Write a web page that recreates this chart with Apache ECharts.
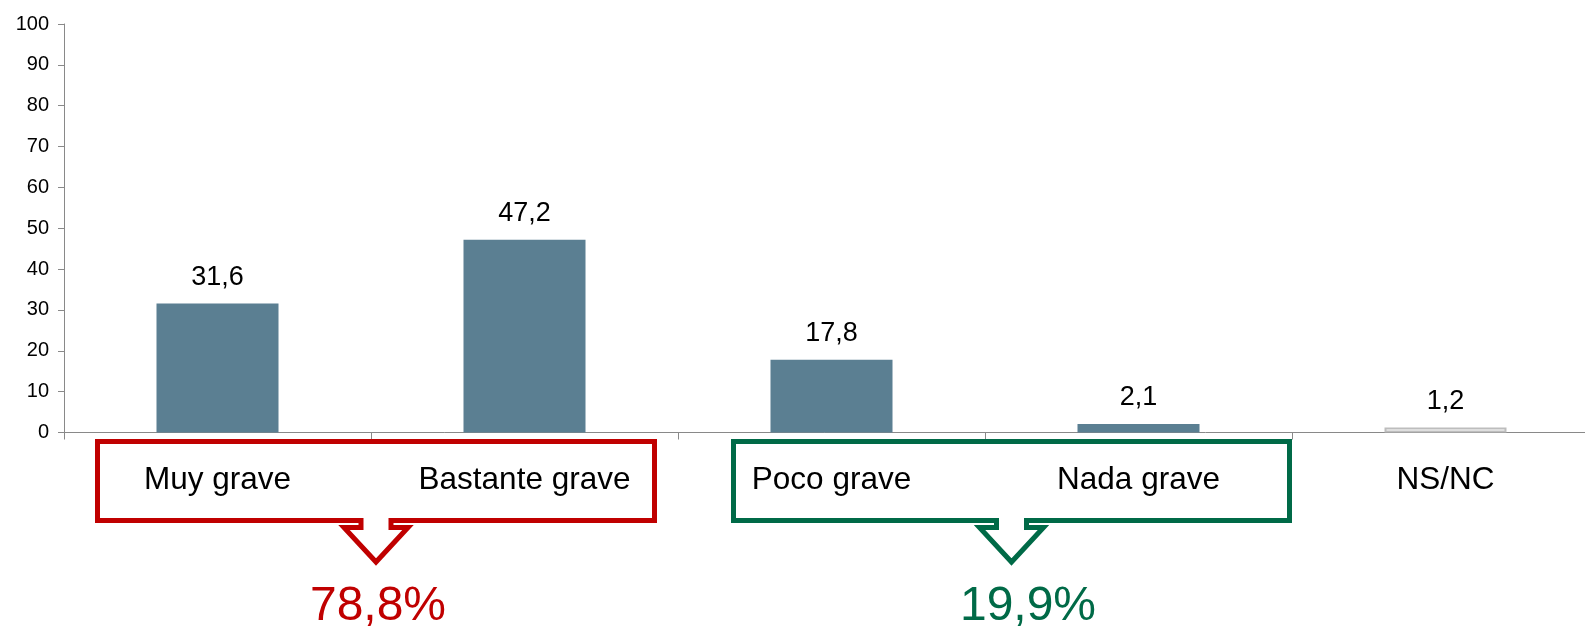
<!DOCTYPE html>
<html>
<head>
<meta charset="utf-8">
<script src="https://cdn.jsdelivr.net/npm/echarts@6/dist/echarts.min.js"></script>
<style>
html,body{margin:0;padding:0;background:#fff;}
#c{width:1585px;height:627px;}
</style>
</head>
<body>
<div id="c"></div>
<script>
const categories = ['Muy grave', 'Bastante grave', 'Poco grave', 'Nada grave', 'NS/NC'];
const values = [31.6, 47.2, 17.8, 2.1, 1.2];
const yTicks = [0, 10, 20, 30, 40, 50, 60, 70, 80, 90, 100];
const groupTotals = ['78,8%', '19,9%'];

const FONT = 'Liberation Sans, Arial, sans-serif';
const BAR = '#5B7F92';
const AXIS = '#898989';
const RED = '#C00000';
const GREEN = '#006A47';

const chart = echarts.init(document.getElementById('c'), null, {renderer: 'canvas'});

const seriesData = values.map((v, i) => {
  if (categories[i] === 'NS/NC') {
    return {value: v, itemStyle: {color: '#ffffff', borderColor: '#BDBDBD', borderWidth: 2}};
  }
  return {value: v};
});

chart.setOption({
  animation: false,
  backgroundColor: '#ffffff',
  grid: {left: 64, top: 24, width: 1535, height: 408.5, containLabel: false, outerBoundsMode: 'none'},
  xAxis: {
    type: 'category',
    data: categories,
    boundaryGap: true,
    axisLine: {lineStyle: {color: AXIS, width: 1}},
    axisTick: {show: true, length: 7, lineStyle: {color: AXIS}},
    axisLabel: {fontSize: 31.5, fontFamily: FONT, color: '#000', margin: 32, interval: 0}
  },
  yAxis: {
    type: 'value',
    min: yTicks[0],
    max: yTicks[yTicks.length - 1],
    interval: yTicks[1] - yTicks[0],
    axisLine: {show: true, lineStyle: {color: AXIS, width: 1}},
    axisTick: {show: true, length: 6, lineStyle: {color: AXIS}},
    splitLine: {show: false},
    axisLabel: {fontSize: 20, fontFamily: FONT, color: '#000', margin: 15}
  },
  series: [{
    type: 'bar',
    data: seriesData,
    barWidth: 122,
    itemStyle: {color: BAR},
    label: {
      show: true,
      position: 'top',
      distance: 12.5,
      fontSize: 27,
      fontFamily: FONT,
      color: '#000',
      formatter: p => String(p.value).replace('.', ',')
    }
  }]
});

function callout(left, right, color) {
  const top = 441.5, bottom = 520.5;
  const cx = (left + right) / 2;
  const stem = 15, head = 32, lip = 527.5, tip = 562;
  return {
    type: 'polygon',
    shape: {points: [
      [left, top], [right, top], [right, bottom], [cx + stem, bottom], [cx + stem, lip],
      [cx + head, lip], [cx, tip], [cx - head, lip], [cx - stem, lip], [cx - stem, bottom],
      [left, bottom]
    ]},
    style: {fill: 'none', stroke: color, lineWidth: 5, lineJoin: 'miter'},
    z: 1
  };
}

chart.setOption({
  graphic: [
    callout(97.5, 654.5, RED),
    callout(733.5, 1289.5, GREEN),
    {type: 'text', x: 378, y: 607, style: {text: groupTotals[0], fill: RED, font: '48px ' + FONT, textAlign: 'center', textVerticalAlign: 'middle'}},
    {type: 'text', x: 1028, y: 607, style: {text: groupTotals[1], fill: GREEN, font: '48px ' + FONT, textAlign: 'center', textVerticalAlign: 'middle'}}
  ]
});
</script>
</body>
</html>
